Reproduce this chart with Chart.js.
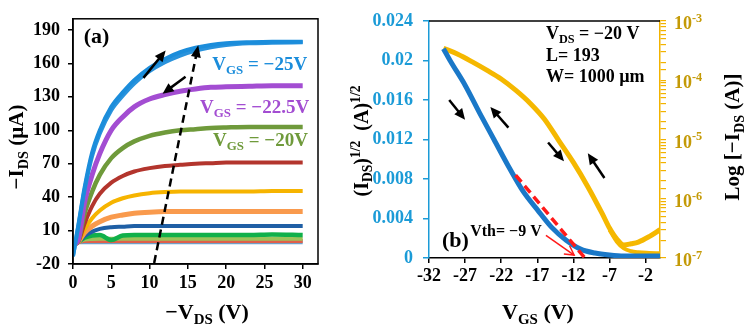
<!DOCTYPE html>
<html>
<head>
<meta charset="utf-8">
<script src="https://cdn.jsdelivr.net/npm/chart.js@4.4.0/dist/chart.umd.min.js"></script>
<style>
  html, body { margin: 0; padding: 0; background: #fff; }
  #wrap { position: relative; width: 744px; height: 325px; overflow: hidden; }
  #ca { position: absolute; left: 0; top: 0; }
  #cb { position: absolute; left: 345px; top: 0; }
</style>
</head>
<body>
<div id="wrap">
  <canvas id="ca" width="345" height="325"></canvas>
  <canvas id="cb" width="399" height="325"></canvas>
</div>
<script>
// ---- panel (a): output curves, -I_DS (uA) vs -V_DS (V)
const VDS = [0, 0.7, 1.5, 2.5, 3.5, 5, 6.5, 8, 10, 12, 14, 16, 18, 20, 23, 26, 30];
const I_25F = [-13, 15, 48, 80, 100, 121, 134, 145, 156, 164, 170, 174, 176.5, 178, 179, 179.5, 179.5];
const I_25R = [-13, 14, 46, 77, 97, 118, 131, 142, 153, 161, 167, 171.5, 174.5, 176.5, 178, 178.5, 179];
const I_225 = [-3, 2, 35, 60, 79, 100, 112, 121, 128, 132, 135, 137, 138.5, 139, 139.5, 140, 140];
const I_20 = [-3, 1, 25, 45, 60, 75, 84, 90, 95, 98, 100, 101, 102, 102.5, 103, 103, 103];
const I_RED = [-3, 0, 16, 32, 43, 53, 59, 63, 66, 68, 69, 70, 70.5, 71, 71, 71, 71];
const I_YEL = [-3, 0, 11, 21, 28, 35, 39, 41.5, 43.5, 44.5, 45, 45, 45, 45, 45, 45.5, 45.5];
const I_ORA = [-3, 0, 8, 14, 18, 22, 24, 25.5, 26.5, 27, 27, 27, 27, 27, 27, 27, 27];
const I_DBL = [-2, 0, 5, 9, 11.5, 13, 13.5, 14, 14, 14, 14, 14, 14, 14, 14, 14, 14];
const I_GRN = [-2, 0, 3.5, 5.5, 6, 1.5, 5.5, 6, 6, 6, 6, 6, 6, 6, 6, 6.5, 6];
const I_LGR = [-2, 0, 2, 2.5, 2.7, 2.7, 2.7, 2.7, 2.7, 2.7, 2.7, 2.7, 2.7, 2.7, 2.7, 2.7, 2.7];
const I_LRD = [-1.5, 0, 0.7, 0.7, 0.7, 0.7, 0.7, 0.7, 0.7, 0.7, 0.7, 0.7, 0.7, 0.7, 0.7, 0.7, 0.7];
const I_LBL = [-1, -0.5, -0.5, -0.5, -0.5, -0.5, -0.5, -0.5, -0.5, -0.5, -0.5, -0.5, -0.5, -0.5, -0.5, -0.5, -0.5];
const TREND_X = [10.6, 16.2];
const TREND_Y = [-19, 171];
const XTICK_A = [0, 5, 10, 15, 20, 25, 30];
const YTICK_A = [-20, 10, 40, 70, 100, 130, 160, 190];

// ---- panel (b): transfer curve at V_DS = -20 V
const VGS = [-30, -29, -27, -25, -23, -21, -19, -17, -15, -13, -11, -9, -7, -5, -3, 0];
const SQRT_ID = [0.0212, 0.0199, 0.0175, 0.0147, 0.0120, 0.0093, 0.0068, 0.0049, 0.0031, 0.0018, 0.0009, 0.0005, 0.0003, 0.0002, 0.0002, 0.0002];
const VGS_LOG = [-30, -28, -26, -24, -22, -20, -18, -16, -14, -12, -10, -8, -7, -6, -5, -4, -3, -1.5, 0];
const ID_FWD = [3.47e-4, 2.75e-4, 2.04e-4, 1.48e-4, 1.05e-4, 6.8e-5, 4.1e-5, 2.2e-5, 9.5e-6, 4.1e-6, 1.6e-6, 5.6e-7, 3.2e-7, 2.1e-7, 1.66e-7, 1.74e-7, 1.86e-7, 2.3e-7, 3.0e-7];
const VGS_REV = [-7, -6, -5, -4, -3, -1.5, 0];
const ID_REV = [3.0e-7, 1.9e-7, 1.45e-7, 1.3e-7, 1.25e-7, 1.22e-7, 1.2e-7];
const FIT_X = [-20, -10.4];
const FIT_Y = [0.0084, 0];
const XTICK_B = [-32, -27, -22, -17, -12, -7, -2];
const YTICK_B = [0, 0.004, 0.008, 0.012, 0.016, 0.02, 0.024];
const LOG_EXP = [-7, -6, -5, -4, -3];

const FAM = '"Liberation Serif", "Times New Roman", serif';
const font = (s) => `bold ${s}px ${FAM}`;
const pts = (xs, ys) => xs.map((v, i) => ({x: v, y: ys[i]}));

// text with sub (1) / sup (2) parts, y is the middle
function rich(ctx, parts, x, y, size, color, align, rot) {
    ctx.save();
    ctx.translate(x, y);
    if (rot) ctx.rotate(rot);
    ctx.fillStyle = color;
    ctx.textBaseline = 'alphabetic';
    let w = 0;
    const segs = parts.map(p => {
        const s = p[1] ? size * 0.68 : size;
        ctx.font = font(s);
        const m = ctx.measureText(p[0]).width;
        w += m;
        return {t: p[0], s: s, m: m, d: p[1] === 1 ? size * 0.22 : p[1] === 2 ? -size * 0.4 : 0};
    });
    let cx = align === 'center' ? -w / 2 : align === 'right' ? -w : 0;
    segs.forEach(g => {
        ctx.font = font(g.s);
        ctx.fillText(g.t, cx, size * 0.34 + g.d);
        cx += g.m;
    });
    ctx.restore();
}

function arrow(ctx, x1, y1, x2, y2, color, lw, hl, hw, open) {
    const a = Math.atan2(y2 - y1, x2 - x1), c = Math.cos(a), s = Math.sin(a);
    ctx.save();
    ctx.setLineDash([]);
    ctx.strokeStyle = color;
    ctx.fillStyle = color;
    ctx.lineWidth = lw;
    ctx.beginPath();
    ctx.moveTo(x1, y1);
    ctx.lineTo(open ? x2 : x2 - hl * 0.7 * c, open ? y2 : y2 - hl * 0.7 * s);
    ctx.stroke();
    const bx = x2 - hl * c, by = y2 - hl * s;
    ctx.beginPath();
    ctx.moveTo(bx - s * hw, by + c * hw);
    ctx.lineTo(x2, y2);
    ctx.lineTo(bx + s * hw, by - c * hw);
    if (open) { ctx.stroke(); } else { ctx.closePath(); ctx.fill(); }
    ctx.restore();
}

const tickFont = {family: FAM, size: 18, weight: 'bold'};

function line(label, xs, ys, color, width, yAxis) {
    return {
        label: label, data: pts(xs, ys), borderColor: color, borderWidth: width,
        pointRadius: 0, fill: false, yAxisID: yAxis || 'y', cubicInterpolationMode: 'monotone'
    };
}

// ---------- chart (a)
const annotA = {
    id: 'annotA',
    afterDatasetsDraw(chart) {
        const {ctx, chartArea: a, scales: {x, y}} = chart;
        ctx.save();
        ctx.strokeStyle = '#000';
        ctx.lineWidth = 1.5;
        ctx.strokeRect(a.left, a.top, a.right - a.left, a.bottom - a.top);

        // head of the dashed trend arrow
        const tx0 = x.getPixelForValue(TREND_X[0]), ty0 = y.getPixelForValue(TREND_Y[0]);
        const tx1 = x.getPixelForValue(TREND_X[1]), ty1 = y.getPixelForValue(TREND_Y[1]);
        const ang = Math.atan2(ty1 - ty0, tx1 - tx0);
        arrow(ctx, tx1 - 2 * Math.cos(ang), ty1 - 2 * Math.sin(ang), tx1 + 6 * Math.cos(ang), ty1 + 6 * Math.sin(ang), '#000', 2, 12, 5, false);

        // sweep arrows
        arrow(ctx, x.getPixelForValue(9.2), y.getPixelForValue(147), x.getPixelForValue(12.1), y.getPixelForValue(171.5), '#000', 2.5, 11, 5, false);
        arrow(ctx, x.getPixelForValue(14.7), y.getPixelForValue(148), x.getPixelForValue(11.7), y.getPixelForValue(132.8), '#000', 2.5, 11, 5, false);

        rich(ctx, [['(a)']], x.getPixelForValue(1.4), y.getPixelForValue(184.6), 22, '#000', 'left');
        rich(ctx, [['V'], ['GS', 1], [' = \u221225V']], x.getPixelForValue(18.2), y.getPixelForValue(159.6), 19, '#1b8ddb', 'left');
        rich(ctx, [['V'], ['GS', 1], [' = \u221222.5V']], x.getPixelForValue(16.6), y.getPixelForValue(121), 19, '#a34dd2', 'left');
        rich(ctx, [['V'], ['GS', 1], [' = \u221220V']], x.getPixelForValue(18.3), y.getPixelForValue(91.7), 19, '#6f9a3b', 'left');
        ctx.restore();
    },
    afterDraw(chart) {
        const ctx = chart.ctx;
        rich(ctx, [['\u2212V'], ['DS', 1], [' (V)']], 207, 312, 22, '#000', 'center');
        rich(ctx, [['\u2212I'], ['DS', 1], [' (\u00b5A)']], 16, 147, 21, '#000', 'center', -Math.PI / 2);
    }
};

new Chart(document.getElementById('ca'), {
    type: 'line',
    data: {
        datasets: [
            Object.assign(line('trend', TREND_X, TREND_Y, '#000', 2.5), {borderDash: [8, 5], cubicInterpolationMode: 'default'}),
            line('-25V fwd', VDS, I_25F, '#1b8ddb', 4),
            line('-25V rev', VDS, I_25R, '#2a93dc', 4),
            line('-22.5V', VDS, I_225, '#a34dd2', 5),
            line('-20V', VDS, I_20, '#6f9a3b', 4.5),
            line('-17.5V', VDS, I_RED, '#b3352d', 4),
            line('-15V', VDS, I_YEL, '#f6b400', 4),
            line('-12.5V', VDS, I_ORA, '#f99a4d', 5),
            line('-10V', VDS, I_DBL, '#1f5fa5', 4),
            line('-7.5V', VDS, I_GRN, '#10b04a', 4.5),
            line('-5V', VDS, I_LGR, '#9cc35a', 4),
            line('-2.5V', VDS, I_LRD, '#e0604a', 4),
            line('0V', VDS, I_LBL, '#6fa0c8', 4)
        ]
    },
    options: {
        responsive: false,
        animation: false,
        devicePixelRatio: 1,
        layout: {padding: {top: 18, right: 27, left: 0, bottom: 0}},
        plugins: {legend: {display: false}, tooltip: {enabled: false}},
        scales: {
            x: {
                type: 'linear', min: 0, max: 32,
                afterBuildTicks: s => { s.ticks = XTICK_A.map(v => ({value: v})); },
                afterFit: s => { s.height = 61; },
                grid: {drawOnChartArea: false, tickLength: 5, color: '#000', lineWidth: 1.5},
                border: {color: '#000', width: 1.5},
                ticks: {color: '#000', font: tickFont, padding: 4, autoSkip: false, maxRotation: 0}
            },
            y: {
                type: 'linear', min: -20, max: 200,
                afterBuildTicks: s => { s.ticks = YTICK_A.map(v => ({value: v})); },
                afterFit: s => { s.width = 73; },
                grid: {drawOnChartArea: false, tickLength: 5, color: '#000', lineWidth: 1.5},
                border: {color: '#000', width: 1.5},
                ticks: {color: '#000', font: tickFont, padding: 8, autoSkip: false}
            }
        }
    },
    plugins: [annotA]
});

// ---------- chart (b)
const BLUE_AX = '#1b9bd7';
const GOLD_AX = '#f2b300';
const GOLD_TX = '#c49a06';

const annotB = {
    id: 'annotB',
    afterDatasetsDraw(chart) {
        const {ctx, chartArea: a, scales: {x, y, y2}} = chart;
        ctx.save();
        ctx.strokeStyle = '#000';
        ctx.lineWidth = 1.5;
        ctx.beginPath();
        ctx.moveTo(a.left, a.top);
        ctx.lineTo(a.right, a.top);
        ctx.stroke();

        const P = (vx, vy) => [x.getPixelForValue(vx), y.getPixelForValue(vy)];
        const ar = (p, q, col, lw, hl, hw, open) => arrow(ctx, p[0], p[1], q[0], q[1], col, lw, hl, hw, open);
        ar(P(-29.2, 0.0160), P(-27, 0.0140), '#000', 2.5, 11, 5, false);
        ar(P(-21.0, 0.0132), P(-23.5, 0.0153), '#000', 2.5, 11, 5, false);
        ar(P(-15.5, 0.0117), P(-13.3, 0.0098), '#000', 2.5, 11, 5, false);
        ar(P(-7.7, 0.0081), P(-10, 0.0106), '#000', 2.5, 11, 5, false);
        ar(P(-15.8, 0.0023), P(-11.9, 0.0003), '#ff1a1a', 1.5, 9, 5, true);

        let p = P(-30.2, 0.0019);
        rich(ctx, [['(b)']], p[0], p[1], 22, '#000', 'left');
        p = P(-26.3, 0.0028);
        rich(ctx, [['Vth= \u22129 V']], p[0], p[1], 16, '#000', 'left');
        p = P(-15.8, 0.0228);
        rich(ctx, [['V'], ['DS', 1], [' = \u221220 V']], p[0], p[1], 18, '#000', 'left');
        p = P(-15.8, 0.0206);
        rich(ctx, [['L= 193']], p[0], p[1], 18, '#000', 'left');
        p = P(-15.8, 0.0184);
        rich(ctx, [['W= 1000 \u00b5m']], p[0], p[1], 18, '#000', 'left');
        ctx.restore();
    },
    afterDraw(chart) {
        const {ctx, scales: {y2}} = chart;
        LOG_EXP.forEach(e => {
            rich(ctx, [['10'], [String(e), 2]], y2.left + 14, y2.getPixelForValue(Math.pow(10, e)) + 2, 18, GOLD_TX, 'left');
        });
        rich(ctx, [['V'], ['GS', 1], [' (V)']], 193, 312, 22, '#000', 'center');
        rich(ctx, [['(I'], ['DS', 1], [')'], ['1/2', 2], ['  (A)'], ['1/2', 2]], 16, 141, 20, '#000', 'center', -Math.PI / 2);
        rich(ctx, [['Log [\u2212I'], ['DS', 1], [' (A)]']], 387, 137, 21, '#000', 'center', -Math.PI / 2);
    }
};

new Chart(document.getElementById('cb'), {
    type: 'line',
    data: {
        datasets: [
            Object.assign(line('fit', FIT_X, FIT_Y, '#ff1a1a', 3.5), {borderDash: [9, 5], cubicInterpolationMode: 'default'}),
            line('sqrt', VGS, SQRT_ID, '#1a78c8', 5),
            line('log fwd', VGS_LOG, ID_FWD, '#f5b800', 5, 'y2'),
            line('log rev', VGS_REV, ID_REV, '#f5b800', 4, 'y2')
        ]
    },
    options: {
        responsive: false,
        animation: false,
        devicePixelRatio: 1,
        layout: {padding: {top: 21, right: 0, left: 0, bottom: 0}},
        plugins: {legend: {display: false}, tooltip: {enabled: false}},
        scales: {
            x: {
                type: 'linear', min: -32, max: 0,
                afterBuildTicks: s => { s.ticks = XTICK_B.map(v => ({value: v})); },
                afterFit: s => { s.height = 67; },
                grid: {drawOnChartArea: false, tickLength: 5, color: '#000', lineWidth: 1.5},
                border: {color: '#000', width: 1.5},
                ticks: {color: '#000', font: tickFont, padding: 3, autoSkip: false, maxRotation: 0, callback: v => String(v)}
            },
            y: {
                type: 'linear', position: 'left', min: 0, max: 0.024,
                afterBuildTicks: s => { s.ticks = YTICK_B.map(v => ({value: v})); },
                afterFit: s => { s.width = 84; },
                grid: {drawOnChartArea: false, tickLength: 6, color: BLUE_AX, lineWidth: 1.5},
                border: {color: BLUE_AX, width: 1.5},
                ticks: {color: BLUE_AX, font: tickFont, padding: 10, autoSkip: false, callback: v => String(+v.toFixed(3))}
            },
            y2: {
                type: 'logarithmic', position: 'right', min: 1e-7, max: 1e-3,
                afterFit: s => { s.width = 84; },
                grid: {drawOnChartArea: false, tickLength: 6, color: GOLD_AX, lineWidth: 1.2},
                border: {color: GOLD_AX, width: 1.5},
                ticks: {font: tickFont, autoSkip: false, callback: () => ''}
            }
        }
    },
    plugins: [annotB]
});
</script>
</body>
</html>
